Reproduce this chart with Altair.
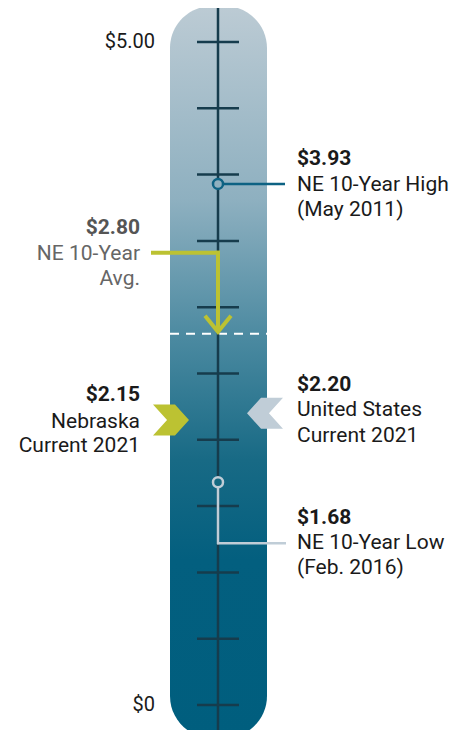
import altair as alt
import pandas as pd

# ---------------- data ----------------
tick_values = [0.0, 0.5, 1.0, 1.5, 2.0, 2.5, 3.0, 3.5, 4.0, 4.5, 5.0]
axis_label_values = [5.0, 0.0]
axis_labels = ["$5.00", "$0"]

ne_high = 3.93
ne_avg = 2.80
ne_current = 2.15
us_current = 2.20
ne_low = 1.68

value_labels = ["$3.93", "$2.80", "$2.15", "$2.20", "$1.68"]
label_line1 = ["NE 10-Year High", "NE 10-Year", "Nebraska", "United States", "NE 10-Year Low"]
label_line2 = ["(May 2011)", "Avg.", "Current 2021", "Current 2021", "(Feb. 2016)"]
annot_values = [ne_high, ne_avg, ne_current, us_current, ne_low]

# ---------------- styling ----------------
FONT = "Roboto"
FS = 21
TICK_COLOR = "#163c4d"
GREEN = "#bcc232"
LIGHT = "#c0cdd7"
TEAL = "#0d6283"

yscale = alt.Scale(domain=[-0.1885, 5.2564], nice=False, zero=False)


def Y(field="v"):
    return alt.Y(f"{field}:Q", scale=yscale, axis=None)


def one(v):
    return pd.DataFrame({"v": [v]})


gradient = alt.LinearGradient(
    gradient="linear",
    x1=0, x2=0, y1=0, y2=1,
    stops=[
        alt.GradientStop(offset=0.0, color="#bccbd4"),
        alt.GradientStop(offset=0.265, color="#8eb0c0"),
        alt.GradientStop(offset=0.456, color="#4a89a0"),
        alt.GradientStop(offset=0.62, color="#186a85"),
        alt.GradientStop(offset=0.757, color="#035f7f"),
        alt.GradientStop(offset=1.0, color="#005e7e"),
    ],
)

layers = []

# tube
layers.append(
    alt.Chart(one(0)).mark_rect(cornerRadius=42, color=gradient).encode(
        x=alt.value(162), x2=alt.value(259), y=alt.value(-2), y2=alt.value(730)
    )
)

# dashed average line
layers.append(
    alt.Chart(one(ne_avg)).mark_rule(color="white", strokeWidth=2, strokeDash=[9, 7]).encode(
        y=Y(), x=alt.value(162), x2=alt.value(259)
    )
)

# center line
layers.append(
    alt.Chart(one(0)).mark_rule(color=TICK_COLOR, strokeWidth=2.5).encode(
        x=alt.value(210), y=alt.value(-2), y2=alt.value(740)
    )
)

# ticks
layers.append(
    alt.Chart(pd.DataFrame({"v": tick_values})).mark_rule(color=TICK_COLOR, strokeWidth=2.5).encode(
        y=Y(), x=alt.value(189), x2=alt.value(231)
    )
)

# axis labels
layers.append(
    alt.Chart(pd.DataFrame({"v": axis_label_values, "t": axis_labels})).mark_text(
        align="right", baseline="middle", font=FONT, fontSize=FS - 1, color="#1a1a1a"
    ).encode(y=Y(), x=alt.value(147), text="t:N")
)

# high leader line
layers.append(
    alt.Chart(one(ne_high)).mark_rule(color=TEAL, strokeWidth=2.5).encode(
        y=Y(), x=alt.value(215), x2=alt.value(277)
    )
)
# low leader lines
layers.append(
    alt.Chart(one(ne_low)).mark_rule(color=LIGHT, strokeWidth=2.5, yOffset=5, y2Offset=62).encode(
        y=Y(), y2=alt.Y2("v:Q"), x=alt.value(210)
    )
)
layers.append(
    alt.Chart(one(ne_low)).mark_rule(color=LIGHT, strokeWidth=2.5, yOffset=61).encode(
        y=Y(), x=alt.value(209), x2=alt.value(278)
    )
)

# high / low circles
layers.append(
    alt.Chart(one(ne_high)).mark_point(
        shape="circle", filled=True, fill="#8fb0bf", stroke=TEAL, strokeWidth=2.5, size=100, opacity=1
    ).encode(y=Y(), x=alt.value(210))
)
layers.append(
    alt.Chart(one(ne_low)).mark_point(
        shape="circle", filled=True, fill="#146880", stroke=LIGHT, strokeWidth=2.5, size=100, opacity=1
    ).encode(y=Y(), x=alt.value(210))
)

# average arrow
layers.append(
    alt.Chart(one(ne_avg)).mark_rule(color=GREEN, strokeWidth=4, yOffset=-81).encode(
        y=Y(), x=alt.value(143), x2=alt.value(212)
    )
)
layers.append(
    alt.Chart(one(ne_avg)).mark_rule(color=GREEN, strokeWidth=4, yOffset=-83, y2Offset=-4).encode(
        y=Y(), y2=alt.Y2("v:Q"), x=alt.value(210)
    )
)
layers.append(
    alt.Chart(one(ne_avg)).mark_point(
        shape="M-1,-0.62L0,0.62L1,-0.62", filled=False, stroke=GREEN, strokeWidth=4,
        size=676, opacity=1, yOffset=-10, strokeJoin="miter"
    ).encode(y=Y(), x=alt.value(210))
)

# chevrons
layers.append(
    alt.Chart(one(ne_current)).mark_point(
        shape="M-1,-0.86L0.22,-0.86L1,0L0.22,0.86L-1,0.86L-0.22,0Z", filled=True,
        fill=GREEN, strokeWidth=0, size=1296, opacity=1
    ).encode(y=Y(), x=alt.value(163))
)
layers.append(
    alt.Chart(one(us_current)).mark_point(
        shape="M1,-0.86L-0.22,-0.86L-1,0L-0.22,0.86L1,0.86L0.22,0Z", filled=True,
        fill=LIGHT, strokeWidth=0, size=1296, opacity=1
    ).encode(y=Y(), x=alt.value(257))
)

# annotation texts
layout = [
    # x, align, offsets, bold color, text color
    (289, "left", [-25, 1, 26], "#1a1a1a", "#1a1a1a"),
    (132, "right", [-106, -80, -55], "#555555", "#666666"),
    (132, "right", [-25, 2, 26], "#1a1a1a", "#1a1a1a"),
    (289, "left", [-28, -3, 23], "#1a1a1a", "#1a1a1a"),
    (289, "left", [36, 61, 86], "#1a1a1a", "#1a1a1a"),
]
for v, vl, l1, l2, (xp, al, offs, bc, tc) in zip(
    annot_values, value_labels, label_line1, label_line2, layout
):
    for txt, dy, weight, col in [
        (vl, offs[0], "bold", bc),
        (l1, offs[1], "normal", tc),
        (l2, offs[2], "normal", tc),
    ]:
        layers.append(
            alt.Chart(pd.DataFrame({"v": [v], "t": [txt]})).mark_text(
                align=al, baseline="middle", dy=dy, font=FONT, fontSize=FS,
                fontWeight=weight, color=col
            ).encode(y=Y(), x=alt.value(xp), text="t:N")
        )

chart = alt.layer(*layers).properties(
    width=451, height=722, padding=0,
    autosize=alt.AutoSizeParams(type="none"),
).configure_view(stroke=None)

chart.save("out.html", embed_options={"renderer": "svg", "actions": False})
